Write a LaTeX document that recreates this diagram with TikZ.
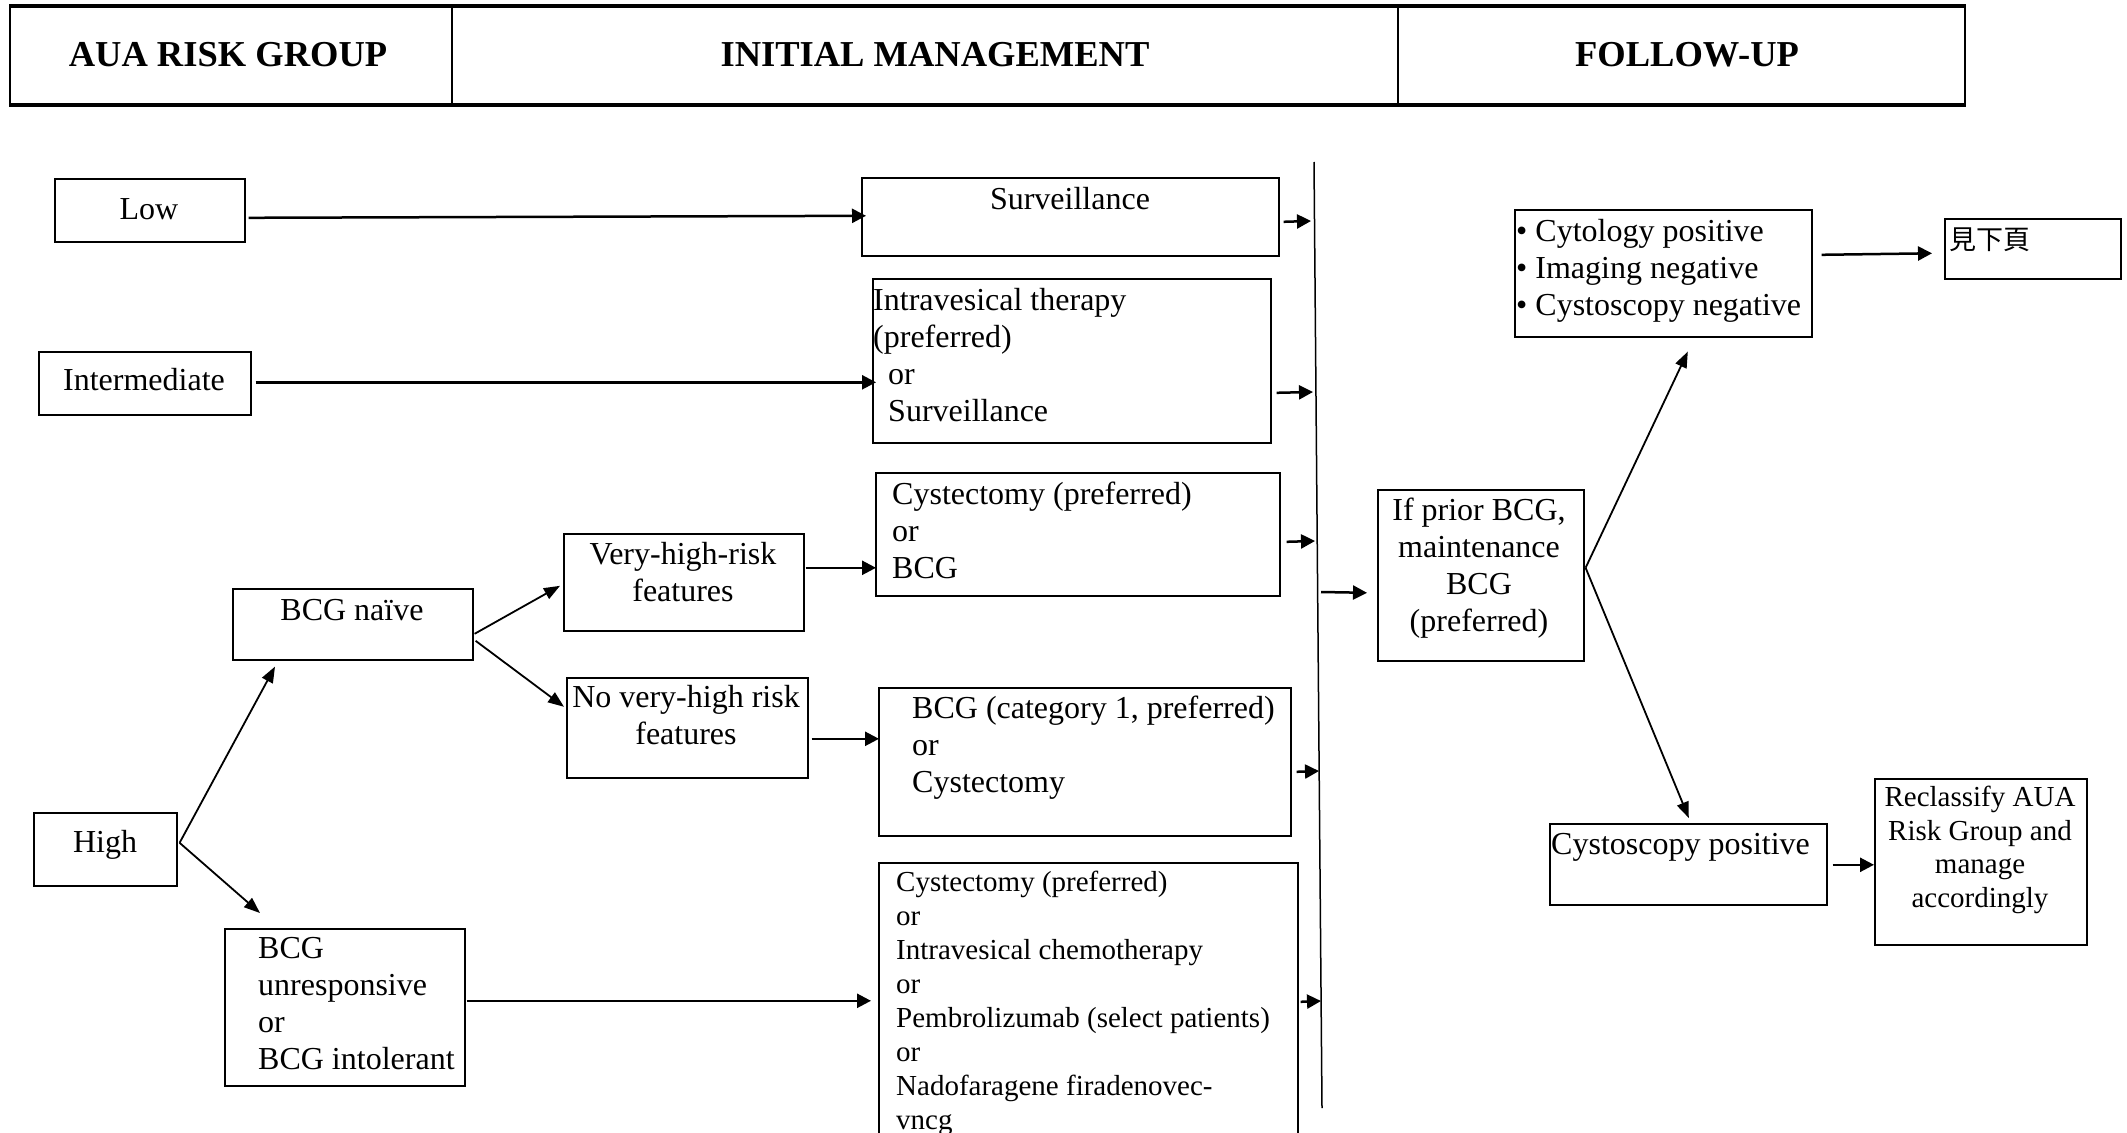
\documentclass[tikz,border=0pt]{standalone}
\usepackage{fontspec}
\setmainfont{Liberation Serif}
\newfontfamily\cjkfont{Noto Sans CJK TC}
\usetikzlibrary{arrows.meta}
\newcommand\LLines[1]{\vtop{\halign{##\hfil\cr#1\crcr}}}
\newcommand\CLines[1]{\vtop{\halign{\hfil##\hfil\cr#1\crcr}}}
\begin{document}
\begin{tikzpicture}[x=1pt,y=-1pt,
  bx/.style={draw, line width=1.6pt, inner sep=0pt, anchor=north west},
  t32/.style={inner sep=0pt, font=\fontsize{32}{37}\selectfont},
  t29/.style={inner sep=0pt, font=\fontsize{29}{34}\selectfont},
  hd/.style={inner sep=0pt, anchor=base, font=\fontsize{36.5}{44}\selectfont\bfseries},
  arr/.style={line width=2.5pt, -{Triangle[length=14pt,width=14pt]}},
  darr/.style={line width=1.8pt, -{Triangle[length=16pt,width=12pt]}},
  vline/.style={line width=1.5pt}
]
\useasboundingbox (0,0) rectangle (2127,1132);
\clip (0,0) rectangle (2127,1132);

% header
\node[anchor=north west, inner sep=0pt, minimum width=1955pt, minimum height=97pt, draw, line width=2pt] (hdr) at (9,6) {};
\draw[line width=3pt] (hdr.north west) -- (hdr.north east);
\draw[line width=3pt] (hdr.south west) -- (hdr.south east);
\draw[line width=1.6pt] ([shift={(443,0)}]hdr.north west) -- ([shift={(443,0)}]hdr.south west);
\draw[line width=1.6pt] ([shift={(1389,0)}]hdr.north west) -- ([shift={(1389,0)}]hdr.south west);
\node[hd] (h1t) at (228,66.7) {AUA RISK GROUP};
\node[hd] (h2t) at (935,66.7) {INITIAL MANAGEMENT};
\node[hd] (h3t) at (1687,66.7) {FOLLOW-UP};

% boxes
\node[bx,minimum width=190pt,minimum height=63pt] (low) at (54,178) {};
\node[bx,minimum width=212pt,minimum height=63pt] (inter) at (38,351) {};
\node[bx,minimum width=143pt,minimum height=73pt] (high) at (33,812) {};
\node[bx,minimum width=240pt,minimum height=71pt] (naive) at (232,588) {};
\node[bx,minimum width=240pt,minimum height=157pt] (unresp) at (224,928) {};
\node[bx,minimum width=240pt,minimum height=97pt] (vhr) at (563,533) {};
\node[bx,minimum width=241pt,minimum height=100pt] (novhr) at (566,677) {};
\node[bx,minimum width=417pt,minimum height=78pt] (surv) at (861,177) {};
\node[bx,minimum width=398pt,minimum height=164pt] (intra) at (872,278) {};
\node[bx,minimum width=404pt,minimum height=123pt] (cyst1) at (875,472) {};
\node[bx,minimum width=412pt,minimum height=148pt] (bcg1) at (878,687) {};
\node[bx,minimum width=419pt,minimum height=300pt] (big) at (878,862) {};
\node[bx,minimum width=206pt,minimum height=171pt] (prior) at (1377,489) {};
\node[bx,minimum width=297pt,minimum height=127pt] (cyto) at (1514,209) {};
\node[bx,minimum width=176pt,minimum height=60pt] (next) at (1944,218) {};
\node[bx,minimum width=277pt,minimum height=81pt] (cpos) at (1549,823) {};
\node[bx,minimum width=212pt,minimum height=166pt] (recl) at (1874,778) {};

% texts
\node[t32,anchor=base] (lowT) at (149,219) {Low};
\node[t32,anchor=base] (interT) at (144,390) {Intermediate};
\node[t32,anchor=base] (highT) at (105,852.5) {High};
\node[t32,anchor=base] (naiveT) at (352,620) {BCG naïve};
\node[t32,anchor=base] (vhrT) at (683,564) {\CLines{Very-high-risk\cr features}};
\node[t32,anchor=base] (novhrT) at (686,707) {\CLines{No very-high risk\cr features}};
\node[t32,anchor=base west] (unrespT) at (258,958) {\LLines{BCG\cr unresponsive\cr or\cr BCG intolerant}};
\node[t32,anchor=base] (survT) at (1070,209) {Surveillance};
\node[t32,anchor=base west] (intraT) at (873,310) {\LLines{Intravesical therapy\cr (preferred)\cr \hspace*{15pt}or\cr \hspace*{15pt}Surveillance}};
\node[t32,anchor=base west] (cyst1T) at (892,504) {\LLines{Cystectomy (preferred)\cr or\cr BCG}};
\node[t32,anchor=base west] (bcg1T) at (912,718) {\LLines{BCG (category 1, preferred)\cr or\cr Cystectomy}};
\node[t29,anchor=base west] (bigT) at (896,891) {\LLines{Cystectomy (preferred)\cr or\cr Intravesical chemotherapy\cr or\cr Pembrolizumab (select patients)\cr or\cr Nadofaragene firadenovec-\cr vncg}};
\node[t32,anchor=base] (priorT) at (1479,520) {\CLines{If prior BCG,\cr maintenance\cr BCG\cr (preferred)}};
\node[t32,anchor=base west] (cytoT) at (1516,241) {\LLines{• Cytology positive\cr • Imaging negative\cr • Cystoscopy negative}};
\node[t32,anchor=base west] (cposT) at (1551,854) {Cystoscopy positive};
\node[inner sep=0pt,anchor=base,font=\fontsize{29}{33.5}\selectfont] (reclT) at (1980,806.5) {\CLines{Reclassify AUA\cr Risk Group and\cr manage\cr accordingly}};
\node[inner sep=0pt,anchor=base west,font=\cjkfont\fontsize{27}{32}\selectfont] (nextT) at (1949,249) {見下頁};

% vertical divider line
\coordinate (vt) at (1314,162);
\coordinate (vb) at (1322,1108);
\draw[vline] (vt) -- (vb);
\coordinate (l1) at (1311,221);
\coordinate (l2) at (1313,392);
\coordinate (l3) at (1315,541);
\coordinate (l4) at (1319,771);
\coordinate (l5) at (1321,1001);
\coordinate (l6) at (1321,592);

% connectors
\draw[arr] ([shift={(3,7.5)}]low.east) -- ([shift={(5,-1)}]surv.west);
\draw[arr] ([shift={(4,-1)}]inter.east) -- ([shift={(4,21.5)}]intra.west);
\draw[darr] ([shift={(2,-6.5)}]high.east) -- ([shift={(43,6)}]naive.south west);
\draw[darr] ([shift={(2,-6.5)}]high.east) -- ([shift={(36,-15)}]unresp.north west);
\draw[darr] ([shift={(1,9.5)}]naive.east) -- ([shift={(-3,3.5)}]vhr.west);
\draw[darr] ([shift={(2,16.5)}]naive.east) -- ([shift={(-2,-21)}]novhr.west);
\draw[arr] ([shift={(1,-14.5)}]vhr.east) -- ([shift={(1,33.5)}]cyst1.west);
\draw[arr] ([shift={(3,11)}]novhr.east) -- ([shift={(1,-23)}]bcg1.west);
\draw[arr] ([shift={(1,-6.5)}]unresp.east) -- ([shift={(-7,-12)}]big.west);
\draw[arr] ([shift={(4,5)}]surv.east) -- (l1);
\draw[arr] ([shift={(5,32)}]intra.east) -- (l2);
\draw[arr] ([shift={(6,7.5)}]cyst1.east) -- (l3);
\draw[arr] ([shift={(5,10)}]bcg1.east) -- (l4);
\draw[arr] ([shift={(2,-11)}]big.east) -- (l5);
\draw[arr] (l6) -- ([shift={(-10,17.5)}]prior.west);
\draw[darr] ([shift={(1,-7.5)}]prior.east) -- ([shift={(24.5,14)}]cyto.south);
\draw[darr] ([shift={(1,-7.5)}]prior.east) -- ([shift={(0.5,-5)}]cpos.north);
\draw[arr] ([shift={(9,-18.5)}]cyto.east) -- ([shift={(-12,4.5)}]next.west);
\draw[arr] ([shift={(5,0.5)}]cpos.east) -- ([shift={(0,3)}]recl.west);
\end{tikzpicture}
\end{document}
